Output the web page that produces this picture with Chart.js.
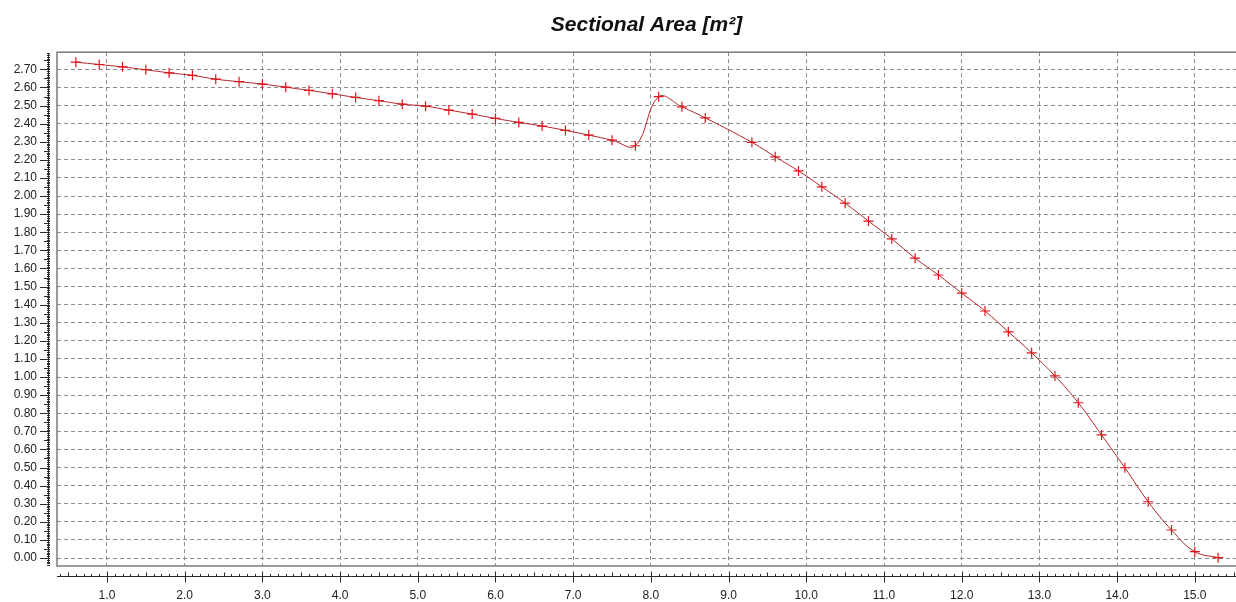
<!DOCTYPE html>
<html>
<head>
<meta charset="utf-8">
<script src="https://cdn.jsdelivr.net/npm/chart.js@4.4.1/dist/chart.umd.min.js"></script>
<style>
  body { margin: 0; background: #fff; }
  #wrap { width: 1236px; height: 602px; position: relative; }
</style>
</head>
<body>
<div id="wrap"><canvas id="myChart"></canvas></div>
<script>
// Sectional area along the length (x)
const titleText = 'Sectional Area [m²]';
const xValues = [0.6, 0.9, 1.2, 1.5, 1.8, 2.1, 2.4, 2.7, 3.0, 3.3, 3.6, 3.9, 4.2, 4.5, 4.8,
                 5.1, 5.4, 5.7, 6.0, 6.3, 6.6, 6.9, 7.2, 7.5, 7.8, 8.1, 8.4, 8.7, 9.3, 9.6,
                 9.9, 10.2, 10.5, 10.8, 11.1, 11.4, 11.7, 12.0, 12.3, 12.6, 12.9, 13.2, 13.5,
                 13.8, 14.1, 14.4, 14.7, 15.0, 15.3];
const yValues = [2.740, 2.727, 2.714, 2.698, 2.681, 2.667, 2.646, 2.632, 2.619, 2.602, 2.584,
                 2.565, 2.545, 2.527, 2.508, 2.497, 2.475, 2.453, 2.429, 2.407, 2.387, 2.363,
                 2.337, 2.309, 2.278, 2.549, 2.493, 2.432, 2.297, 2.217, 2.139, 2.051, 1.961,
                 1.862, 1.764, 1.657, 1.564, 1.464, 1.365, 1.250, 1.134, 1.006, 0.858, 0.680,
                 0.499, 0.311, 0.155, 0.035, 0.002];

const points = xValues.map((x, i) => ({ x: x, y: yValues[i] }));

// plot frame + the detached axes with their minor ticks
const axesPlugin = {
    id: 'axesPlugin',
    afterDraw(chart) {
        const c = chart.ctx;
        const a = chart.chartArea;
        const xs = chart.scales.x;
        const ys = chart.scales.y;
        c.save();
        // frame of the plot (right side runs off the canvas)
        c.strokeStyle = '#7a7a7a';
        c.lineWidth = 1.5;
        c.strokeRect(a.left, a.top, a.right - a.left + 5, a.bottom - a.top);

        c.strokeStyle = '#2a2a2a';
        c.lineWidth = 1;
        // y axis
        const yx = 48.5;
        c.beginPath();
        c.moveTo(yx, a.top + 1);
        c.lineTo(yx, a.bottom - 2);
        for (let k = Math.ceil(ys.min * 100); k <= Math.floor(ys.max * 100); k++) {
            const py = Math.round(ys.getPixelForValue(k / 100)) + 0.5;
            let len = 3;
            if (k % 10 == 0) len = 10;
            else if (k % 5 == 0) len = 6;
            c.moveTo(yx + 1.5 - len, py);
            c.lineTo(yx + 1.5, py);
        }
        c.stroke();
        // x axis
        const xy = 576.5;
        c.beginPath();
        c.moveTo(a.left, xy);
        c.lineTo(a.right, xy);
        for (let k = Math.ceil(xs.min * 10); k <= Math.floor(xs.max * 10); k++) {
            const px = Math.round(xs.getPixelForValue(k / 10)) + 0.5;
            if (k % 10 == 0) {
                c.moveTo(px, xy - 5);
                c.lineTo(px, xy + 6);
            } else {
                const len = (k % 5 == 0) ? 4 : 2.5;
                c.moveTo(px, xy - len);
                c.lineTo(px, xy);
            }
        }
        c.stroke();
        c.restore();
    }
};

const ctx = document.getElementById('myChart').getContext('2d');
const chart = new Chart(ctx, {
    type: 'line',
    data: {
        datasets: [{
            data: points,
            borderColor: '#b3262a',
            borderWidth: 1,
            tension: 0.4,
            pointStyle: 'cross',
            pointRadius: 5,
            pointBorderColor: '#e3121a',
            pointBorderWidth: 1.2,
            fill: false
        }]
    },
    options: {
        responsive: true,
        maintainAspectRatio: false,
        animation: false,
        layout: { autoPadding: false, padding: 0 },
        plugins: {
            legend: { display: false },
            tooltip: { enabled: false },
            title: {
                display: true,
                text: titleText,
                fullSize: false,
                color: '#111',
                font: { family: 'Liberation Sans', size: 21, style: 'italic', weight: 'bold' },
                padding: { top: 13, bottom: 14 }
            }
        },
        scales: {
            x: {
                type: 'linear',
                min: 0.357,
                max: 15.53,
                afterFit: (s) => { s.height = 36; s.paddingLeft = 0; s.paddingRight = 0; },
                border: { display: false, dash: [4, 3] },
                grid: { color: '#8c8c8c', drawTicks: false },
                ticks: {
                    stepSize: 1,
                    includeBounds: false,
                    autoSkip: false,
                    maxRotation: 0,
                    padding: 22,
                    color: '#222',
                    font: { family: 'Liberation Sans', size: 12 },
                    callback: (v) => v.toFixed(1)
                }
            },
            y: {
                min: -0.044,
                max: 2.795,
                afterFit: (s) => { s.width = 57; },
                border: { display: false, dash: [4, 3] },
                grid: { color: '#8c8c8c', drawTicks: false },
                ticks: {
                    stepSize: 0.1,
                    includeBounds: false,
                    autoSkip: false,
                    padding: 20,
                    color: '#222',
                    font: { family: 'Liberation Sans', size: 12 },
                    callback: (v) => v.toFixed(2)
                }
            }
        }
    },
    plugins: [axesPlugin]
});
</script>
</body>
</html>
